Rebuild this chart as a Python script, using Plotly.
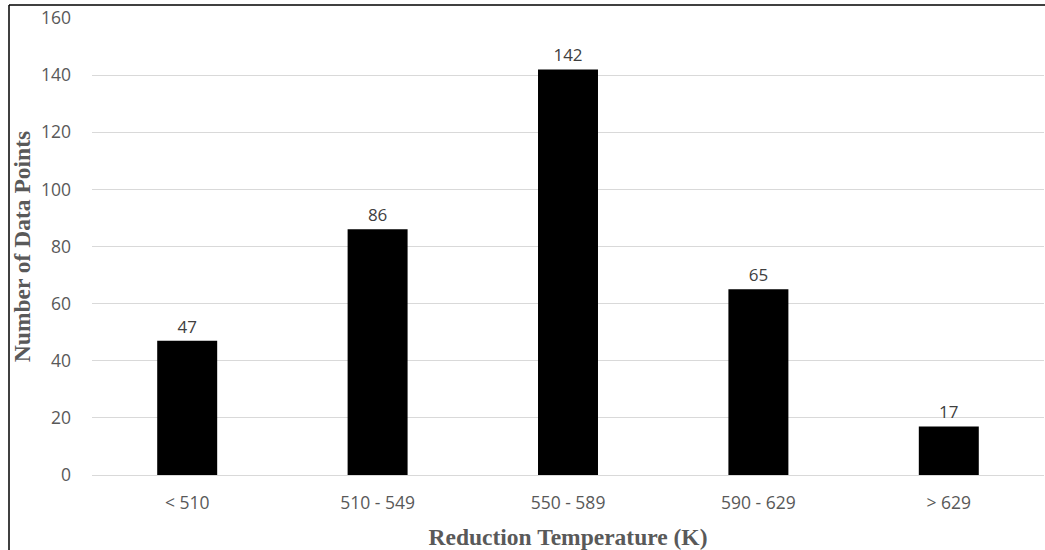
import plotly.graph_objects as go

categories = ["< 510", "510 - 549", "550 - 589", "590 - 629", "> 629"]
counts = [47, 86, 142, 65, 17]
y_ticks = [0, 20, 40, 60, 80, 100, 120, 140, 160]

W, H = 1045, 550
ml, mr, mt, mb = 92, 1, 18, 75
pw = W - ml - mr
ph = H - mt - mb

tick_font = dict(family="Open Sans, Calibri, sans-serif", size=17.5, color="#595959")
title_font = dict(family="Liberation Serif, Times New Roman, serif", size=23.5, color="#595959")

fig = go.Figure(go.Bar(
    x=categories, y=counts,
    marker=dict(color="black", line=dict(width=0)),
    text=[str(c) for c in counts], textposition="outside",
    textfont=dict(family="Open Sans, Calibri, sans-serif", size=17, color="#404040"),
    cliponaxis=False, width=0.315,
))

fig.update_layout(
    width=W, height=H,
    margin=dict(l=ml, r=mr, t=mt, b=mb),
    paper_bgcolor="white", plot_bgcolor="white",
    showlegend=False,
    xaxis=dict(
        title=dict(text="<b>Reduction Temperature (K)</b>", standoff=16, font=title_font),
        tickfont=tick_font,
        showline=False, showgrid=False, ticks="", ticklabelstandoff=15,
    ),
    yaxis=dict(
        title=dict(text="<b>Number of Data Points</b>", standoff=3, font=title_font),
        range=[0, 160], tickvals=y_ticks,
        tickfont=tick_font,
        showgrid=True, gridcolor="#d9d9d9", gridwidth=1,
        zeroline=True, zerolinecolor="#d9d9d9", zerolinewidth=1,
        showline=False, ticks="", ticklabelstandoff=20,
    ),
    shapes=[
        dict(type="line", xref="paper", yref="paper",
             x0=(9 - ml) / pw, x1=(9 - ml) / pw,
             y0=1 + (mt - 5) / ph, y1=-(mb + 5) / ph,
             line=dict(color="black", width=1.5)),
        dict(type="line", xref="paper", yref="paper",
             x0=(9 - ml) / pw, x1=1 + (mr + 5) / pw,
             y0=1 + (mt - 5) / ph, y1=1 + (mt - 5) / ph,
             line=dict(color="black", width=1.5)),
    ],
)

fig.write_html("out.html")
